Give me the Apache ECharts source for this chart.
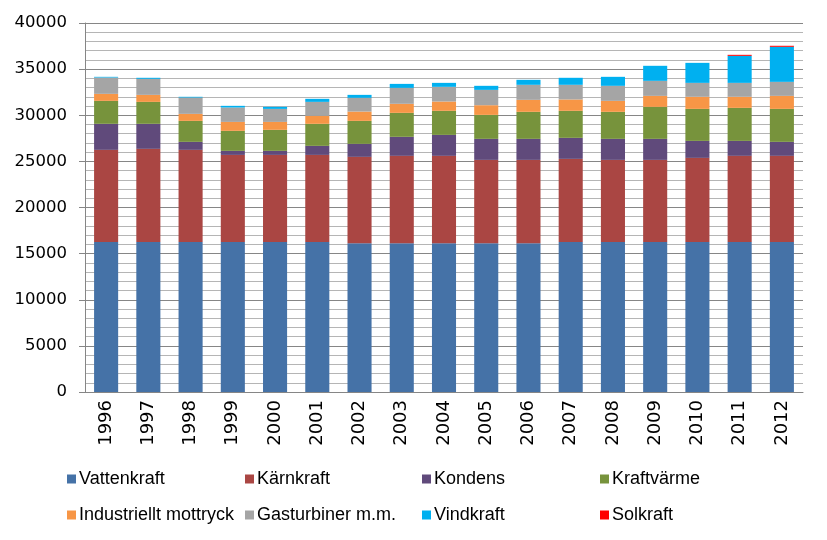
<!DOCTYPE html>
<html>
<head>
<meta charset="utf-8">
<script src="https://cdn.jsdelivr.net/npm/echarts@6/dist/echarts.min.js"></script>
<style>html,body{margin:0;padding:0;background:#fff;}#c{width:827px;height:540px;}</style>
</head>
<body>
<div id="c"></div>
<script>
var years = ['1996','1997','1998','1999','2000','2001','2002','2003','2004','2005','2006','2007','2008','2009','2010','2011','2012'];
var vattenkraft = [16270,16270,16270,16270,16270,16270,16130,16130,16130,16130,16130,16270,16270,16270,16270,16270,16270];
var karnkraft   = [9980,10090,9980,9430,9430,9430,9360,9470,9470,9030,9030,9000,8890,8890,9110,9330,9330];
var kondens     = [2820,2710,865,440,440,980,1410,2060,2270,2280,2280,2280,2280,2280,1840,1620,1515];
var kraftvarme  = [2490,2380,2275,2170,2280,2390,2490,2600,2610,2600,2930,2930,2930,3470,3470,3580,3575];
var industriellt= [760,760,760,970,860,860,1010,980,1010,1050,1300,1230,1190,1190,1310,1200,1410];
var gasturbiner = [1770,1740,1770,1560,1410,1520,1490,1730,1590,1660,1630,1590,1630,1630,1510,1510,1520];
var vindkraft   = [75,110,80,180,220,330,320,430,430,440,540,760,975,1630,2170,2930,3800];
var solkraft    = [0,0,0,0,0,0,0,0,0,0,0,0,0,0,0,110,110];
var yTicks = {min:0, max:40000, interval:5000};

var names = ['Vattenkraft','Kärnkraft','Kondens','Kraftvärme','Industriellt mottryck','Gasturbiner m.m.','Vindkraft','Solkraft'];
var datasets = [vattenkraft,karnkraft,kondens,kraftvarme,industriellt,gasturbiner,vindkraft,solkraft];
var colors = ['#4572A7','#AA4643','#604A7B','#77933C','#F79646','#A5A5A5','#00B0F0','#FF0000'];

var legendPos = [[62,465],[240,465],[417,465],[595,465],[62,501],[240,501],[417,501],[595,501]];
var legends = names.map(function(n,i){
  return {
    data:[n], left:legendPos[i][0], top:legendPos[i][1],
    itemWidth:9, itemHeight:9, itemGap:0, icon:'rect', selectedMode:false,
    textStyle:{fontFamily:'Liberation Sans Narrow, Liberation Sans, sans-serif', fontSize:18, color:'#000', padding:[0,0,0,-2]}
  };
});

var series = names.map(function(n,i){
  return {
    name:n, type:'bar', stack:'total', data:datasets[i],
    barCategoryGap:'43%',
    itemStyle:{color:colors[i]}
  };
});

var chart = echarts.init(document.getElementById('c'), null, {renderer:'canvas'});
chart.setOption({
  animation:false,
  color:colors,
  legend:legends,
  grid:{left:85, right:24, top:23, bottom:148, containLabel:false},
  xAxis:{
    type:'category', data:years,
    axisLine:{show:true, lineStyle:{color:'#868686', width:1}},
    axisTick:{show:false},
    axisLabel:{rotate:90, color:'#000', fontFamily:'DejaVu Sans', fontSize:18, margin:8, interval:0}
  },
  yAxis:{
    type:'value', min:yTicks.min, max:yTicks.max, interval:yTicks.interval,
    axisLine:{show:true, lineStyle:{color:'#868686', width:1}},
    axisTick:{show:true, length:6, lineStyle:{color:'#868686'}},
    minorTick:{show:false, splitNumber:5},
    splitLine:{show:true, lineStyle:{color:'#868686', width:1}},
    minorSplitLine:{show:true, lineStyle:{color:'#B5B5B5', width:1}},
    axisLabel:{color:'#000', fontFamily:'DejaVu Sans', fontSize:16.5, margin:18,
      formatter:function(v){return String(v);}}
  },
  series:series
});
</script>
</body>
</html>
